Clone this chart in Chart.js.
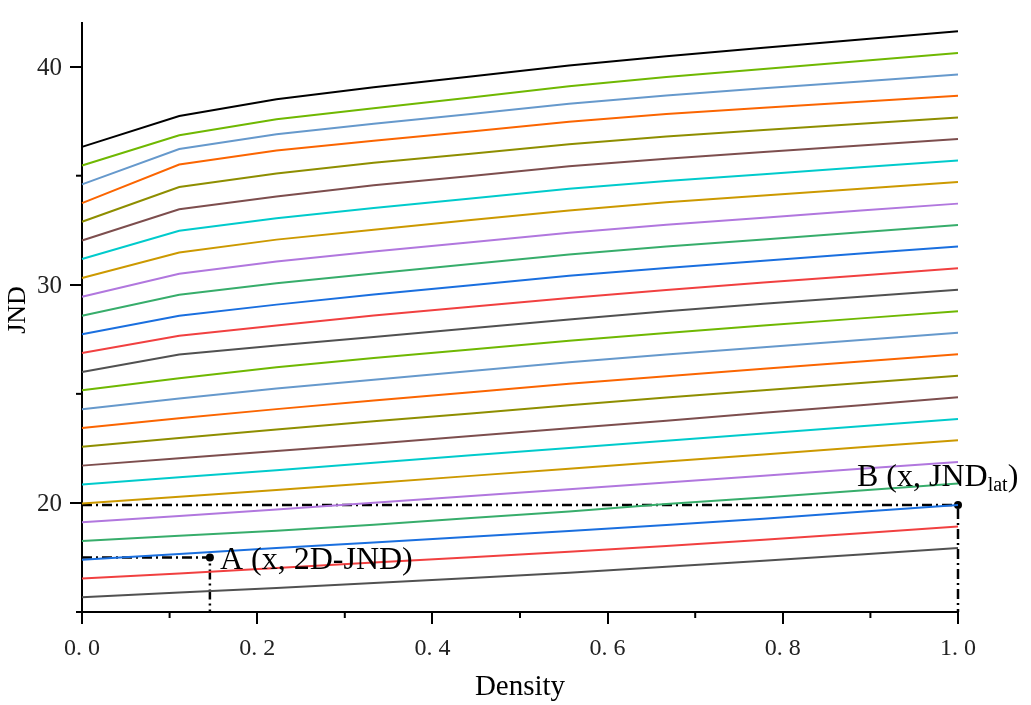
<!DOCTYPE html>
<html>
<head>
<meta charset="utf-8">
<title>JND vs Density</title>
<script src="https://cdn.jsdelivr.net/npm/chart.js@4"></script>
<style>
  html, body { margin: 0; padding: 0; background: #fff; }
  #wrap { width: 1031px; height: 705px; }
</style>
</head>
<body>
<div id="wrap"><canvas id="chart"></canvas></div>
<script>
const density = [0, 0.111, 0.222, 0.333, 0.444, 0.556, 0.667, 0.778, 0.889, 1.0];

// one curve per level, bottom to top
const jnd01 = [15.68, 15.89, 16.10, 16.33, 16.56, 16.80, 17.07, 17.35, 17.64, 17.93];
const jnd02 = [16.53, 16.77, 17.02, 17.27, 17.51, 17.76, 18.03, 18.31, 18.61, 18.92];
const jnd03 = [17.39, 17.66, 17.93, 18.19, 18.45, 18.71, 18.99, 19.28, 19.59, 19.90];
const jnd04 = [18.26, 18.49, 18.72, 19.00, 19.31, 19.61, 19.95, 20.25, 20.57, 20.89];
const jnd05 = [19.11, 19.40, 19.70, 20.01, 20.32, 20.63, 20.94, 21.25, 21.57, 21.88];
const jnd06 = [19.97, 20.28, 20.59, 20.91, 21.24, 21.57, 21.90, 22.22, 22.55, 22.87];
const jnd07 = [20.85, 21.18, 21.50, 21.84, 22.18, 22.52, 22.85, 23.18, 23.52, 23.85];
const jnd08 = [21.71, 22.05, 22.38, 22.71, 23.07, 23.42, 23.77, 24.13, 24.48, 24.84];
const jnd09 = [22.57, 22.98, 23.37, 23.74, 24.10, 24.48, 24.83, 25.16, 25.50, 25.83];
const jnd10 = [23.43, 23.88, 24.30, 24.69, 25.07, 25.46, 25.81, 26.15, 26.48, 26.81];
const jnd11 = [24.29, 24.79, 25.24, 25.65, 26.05, 26.45, 26.80, 27.14, 27.47, 27.80];
const jnd12 = [25.16, 25.72, 26.22, 26.64, 27.03, 27.43, 27.79, 28.13, 28.46, 28.79];
const jnd13 = [26.00, 26.80, 27.22, 27.61, 28.01, 28.41, 28.79, 29.13, 29.45, 29.77];
const jnd14 = [26.87, 27.66, 28.13, 28.59, 28.99, 29.39, 29.76, 30.10, 30.43, 30.76];
const jnd15 = [27.73, 28.58, 29.09, 29.55, 29.98, 30.41, 30.77, 31.10, 31.43, 31.75];
const jnd16 = [28.58, 29.54, 30.07, 30.52, 30.95, 31.39, 31.76, 32.08, 32.41, 32.74];
const jnd17 = [29.45, 30.51, 31.07, 31.52, 31.95, 32.39, 32.75, 33.07, 33.40, 33.72];
const jnd18 = [30.31, 31.48, 32.07, 32.52, 32.97, 33.41, 33.78, 34.09, 34.40, 34.71];
const jnd19 = [31.18, 32.48, 33.05, 33.52, 33.96, 34.40, 34.76, 35.07, 35.39, 35.70];
const jnd20 = [32.03, 33.46, 34.05, 34.56, 34.99, 35.43, 35.78, 36.09, 36.38, 36.68];
const jnd21 = [32.89, 34.48, 35.10, 35.59, 36.01, 36.44, 36.80, 37.10, 37.38, 37.67];
const jnd22 = [33.74, 35.51, 36.15, 36.60, 37.03, 37.47, 37.83, 38.12, 38.39, 38.66];
const jnd23 = [34.60, 36.22, 36.90, 37.38, 37.83, 38.30, 38.68, 39.01, 39.32, 39.64];
const jnd24 = [35.47, 36.85, 37.59, 38.09, 38.59, 39.10, 39.52, 39.89, 40.26, 40.63];
const jnd25 = [36.32, 37.74, 38.50, 39.05, 39.55, 40.05, 40.48, 40.87, 41.24, 41.62];

const jndSeries = [
  jnd01, jnd02, jnd03, jnd04, jnd05, jnd06, jnd07, jnd08, jnd09, jnd10,
  jnd11, jnd12, jnd13, jnd14, jnd15, jnd16, jnd17, jnd18, jnd19, jnd20,
  jnd21, jnd22, jnd23, jnd24, jnd25,
];

const palette = [
  "#515151", "#F14040", "#1A6FDF", "#37AD6B", "#B177DE", "#CC9900",
  "#00CBCC", "#7D4E4E", "#8E8E00", "#FB6501", "#6699CC", "#6FB802",
];

const xTicks = [0, 0.2, 0.4, 0.6, 0.8, 1.0];
const xMinorTicks = [0.1, 0.3, 0.5, 0.7, 0.9];
const yTicks = [20, 30, 40];
const yMinorTicks = [15, 25, 35];
const xRange = [0, 1];
const yRange = [15, 42];

// marked points A and B
const markA = [0.146, 17.5];
const markB = [1.0, 19.9];

const serif = "'Liberation Serif', 'Times New Roman', serif";

const lineColor = (i) => (i === jndSeries.length - 1 ? "#000000" : palette[i % palette.length]);

const datasets = jndSeries.map((values, i) => ({
  label: `JND ${i + 1}`,
  data: density.map((x, j) => ({ x: x, y: values[j] })),
  borderColor: lineColor(i),
  borderWidth: 2,
  pointRadius: 0,
  tension: 0,
  fill: false,
  clip: false,
}));

datasets.push({
  label: "B",
  data: [
    { x: xRange[0], y: markB[1] },
    { x: markB[0], y: markB[1] },
    { x: markB[0], y: yRange[0] },
  ],
  borderColor: "#000",
  borderWidth: 2.5,
  borderDash: [10, 4, 2, 4],
  pointRadius: [0, 4, 0],
  pointBackgroundColor: "#000",
  pointBorderWidth: 0,
  tension: 0,
  fill: false,
  clip: false,
});

datasets.push({
  label: "A",
  data: [
    { x: xRange[0], y: markA[1] },
    { x: markA[0], y: markA[1] },
    { x: markA[0], y: yRange[0] },
  ],
  borderColor: "#000",
  borderWidth: 2.5,
  borderDash: [10, 4, 2, 4],
  pointRadius: [0, 4, 0],
  pointBackgroundColor: "#000",
  pointBorderWidth: 0,
  tension: 0,
  fill: false,
  clip: false,
});

const extras = {
  id: "extras",
  afterDraw(chart) {
    const { ctx, chartArea } = chart;
    const x = chart.scales.x;
    const y = chart.scales.y;
    ctx.save();
    ctx.strokeStyle = "#000";
    ctx.lineWidth = 2;
    xMinorTicks.forEach((v) => {
      const px = x.getPixelForValue(v);
      ctx.beginPath();
      ctx.moveTo(px, chartArea.bottom);
      ctx.lineTo(px, chartArea.bottom + 6);
      ctx.stroke();
    });
    yMinorTicks.forEach((v) => {
      const py = y.getPixelForValue(v);
      ctx.beginPath();
      ctx.moveTo(chartArea.left, py);
      ctx.lineTo(chartArea.left - 6, py);
      ctx.stroke();
    });

    // y axis title
    ctx.fillStyle = "#000";
    ctx.save();
    ctx.translate(18, 310);
    ctx.rotate(-Math.PI / 2);
    ctx.textAlign = "center";
    ctx.textBaseline = "middle";
    ctx.font = `26px ${serif}`;
    ctx.fillText("JND", 0, 0);
    ctx.restore();

    ctx.textBaseline = "alphabetic";
    ctx.textAlign = "left";
    ctx.font = `32px ${serif}`;
    const ax = x.getPixelForValue(markA[0]);
    const ay = y.getPixelForValue(markA[1]);
    ctx.fillText("A (x, 2D-JND)", ax + 10, ay + 12);

    const bx = x.getPixelForValue(markB[0]);
    const by = y.getPixelForValue(markB[1]);
    let tx = bx - 101;
    const ty = by - 19;
    ctx.fillText("B (x, JND", tx, ty);
    tx += ctx.measureText("B (x, JND").width;
    ctx.font = `20px ${serif}`;
    ctx.fillText("lat", tx, ty + 5);
    tx += ctx.measureText("lat").width;
    ctx.font = `32px ${serif}`;
    ctx.fillText(")", tx, ty);
    ctx.restore();
  },
};

new Chart(document.getElementById("chart"), {
  type: "line",
  data: { datasets: datasets },
  plugins: [extras],
  options: {
    responsive: true,
    maintainAspectRatio: false,
    animation: false,
    layout: { padding: { top: 19, right: 73, left: 0, bottom: 0 } },
    plugins: {
      legend: { display: false },
      tooltip: { enabled: false },
    },
    scales: {
      x: {
        type: "linear",
        position: "bottom",
        min: xRange[0],
        max: xRange[1],
        afterBuildTicks: (scale) => {
          scale.ticks = xTicks.map((v) => ({ value: v }));
        },
        afterFit: (scale) => {
          scale.height = 93;
        },
        grid: {
          display: true,
          drawOnChartArea: false,
          drawTicks: true,
          tickLength: 12,
          color: "#000",
          lineWidth: 2,
        },
        border: { display: true, color: "#000", width: 2 },
        ticks: {
          padding: 10,
          color: "#222",
          font: { family: serif, size: 24 },
          maxRotation: 0,
          callback: (v) => Number(v).toFixed(1).replace(".", ". "),
        },
        title: {
          display: true,
          text: "Density",
          color: "#000",
          font: { family: serif, size: 29 },
          padding: { top: 0, bottom: 0 },
        },
      },
      y: {
        type: "linear",
        min: yRange[0],
        max: yRange[1],
        afterBuildTicks: (scale) => {
          scale.ticks = yTicks.map((v) => ({ value: v }));
        },
        afterFit: (scale) => {
          scale.width = 82;
        },
        grid: {
          display: true,
          drawOnChartArea: false,
          drawTicks: true,
          tickLength: 12,
          color: "#000",
          lineWidth: 2,
        },
        border: { display: true, color: "#000", width: 2 },
        ticks: {
          padding: 8,
          color: "#222",
          labelOffset: 2,
          font: { family: serif, size: 25 },
          callback: (v) => String(v),
        },
        title: { display: false },
      },
    },
  },
});
</script>
</body>
</html>
